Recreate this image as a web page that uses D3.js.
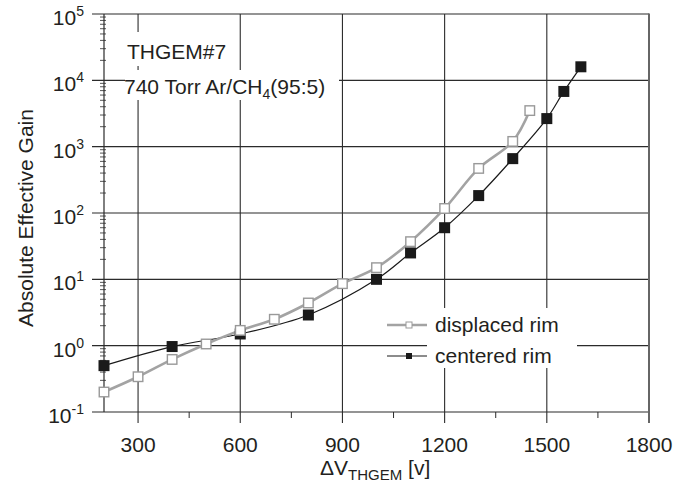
<!DOCTYPE html>
<html>
<head>
<meta charset="utf-8">
<script src="https://cdn.jsdelivr.net/npm/d3@7"></script>
<style>
  html, body { margin: 0; padding: 0; background: #fff; }
  svg { display: block; font-family: "Liberation Sans", Arial, Helvetica, sans-serif; }
</style>
</head>
<body>
<svg id="chart" width="691" height="487"></svg>
<script>
// ---- data ----
const voltDisplaced = [200, 300, 400, 500, 600, 700, 800, 900, 1000, 1100, 1200, 1300, 1400, 1450];
const gainDisplaced = [0.2, 0.34, 0.62, 1.06, 1.7, 2.5, 4.4, 8.6, 15, 37, 117, 470, 1200, 3500];
const voltCentered = [200, 400, 600, 800, 1000, 1100, 1200, 1300, 1400, 1500, 1550, 1600];
const gainCentered = [0.5, 0.97, 1.5, 2.9, 10, 25, 60, 183, 660, 2650, 6800, 16000];
const xMajorTicks = [300, 600, 900, 1200, 1500, 1800];
const xMinorTicks = [450, 750, 1050, 1350, 1650];
const yExponents = [-1, 0, 1, 2, 3, 4, 5];
const seriesNames = ["displaced rim", "centered rim"];

const svg = d3.select("#chart");
const textColor = "#231f20";
const gridColor = "#2b2b2b";
const grayLine = "#a3a3a3";
const fs = 21;

const x = d3.scaleLinear().domain([200, 1800]).range([104, 649]);
const y = d3.scaleLog().domain([0.1, 1e5]).range([412, 14]);

// grid
const grid = svg.append("g");
grid.selectAll("line.vx").data(xMajorTicks.filter(d => d < 1800)).join("line")
  .attr("x1", d => x(d)).attr("x2", d => x(d)).attr("y1", y(1e5)).attr("y2", y(0.1) + 11)
  .attr("stroke", gridColor).attr("stroke-width", 1.1);
grid.selectAll("line.hy").data(yExponents).join("line")
  .attr("x1", x(200) - 12).attr("x2", x(1800))
  .attr("y1", d => y(Math.pow(10, d))).attr("y2", d => y(Math.pow(10, d)))
  .attr("stroke", gridColor).attr("stroke-width", 1.1);
// right border
svg.append("line").attr("x1", x(1800)).attr("x2", x(1800)).attr("y1", y(1e5) - 0.5).attr("y2", y(0.1) + 11)
  .attr("stroke", "#666").attr("stroke-width", 2);
// left axis line
svg.append("line").attr("x1", x(200)).attr("x2", x(200)).attr("y1", y(1e5)).attr("y2", y(0.1))
  .attr("stroke", gridColor).attr("stroke-width", 1.2);

// x minor ticks
svg.selectAll("line.xm").data(xMinorTicks).join("line")
  .attr("x1", d => x(d)).attr("x2", d => x(d)).attr("y1", y(0.1)).attr("y2", y(0.1) + 6)
  .attr("stroke", gridColor).attr("stroke-width", 1);

// y minor ticks
const yMinor = [];
yExponents.slice(0, -1).forEach(e => { for (let m = 2; m <= 9; m++) yMinor.push(m * Math.pow(10, e)); });
svg.selectAll("line.ym").data(yMinor).join("line")
  .attr("x1", x(200) - 4).attr("x2", x(200) + 2)
  .attr("y1", d => y(d)).attr("y2", d => y(d))
  .attr("stroke", gridColor).attr("stroke-width", 0.8);

// x tick labels
svg.selectAll("text.xl").data(xMajorTicks).join("text")
  .attr("x", d => x(d)).attr("y", 452).attr("text-anchor", "middle")
  .attr("font-size", fs).attr("fill", textColor).text(d => d);

// y tick labels
const yl = svg.selectAll("text.yl").data(yExponents).join("text")
  .attr("x", 84).attr("y", d => y(Math.pow(10, d)) + 11).attr("text-anchor", "end")
  .attr("font-size", fs).attr("fill", textColor);
yl.append("tspan").text("10");
yl.append("tspan").attr("dy", -9).attr("font-size", 14).text(d => d);

// axis titles
svg.append("text").attr("transform", "translate(33,218) rotate(-90)").attr("text-anchor", "middle")
  .attr("font-size", fs).attr("fill", textColor).text("Absolute Effective Gain");
const xt = svg.append("text").attr("x", 320).attr("y", 475).attr("font-size", fs).attr("fill", textColor);
xt.append("tspan").text("ΔV");
xt.append("tspan").attr("font-size", 15).attr("dy", 5).text("THGEM");
xt.append("tspan").attr("dy", -5).text(" [v]");

// lines
const dispData = voltDisplaced.map((v, i) => [v, gainDisplaced[i]]);
const centData = voltCentered.map((v, i) => [v, gainCentered[i]]);
const line = d3.line().x(d => x(d[0])).y(d => y(d[1])).curve(d3.curveCatmullRom.alpha(0.5));

svg.append("path").attr("d", line(centData)).attr("fill", "none").attr("stroke", "#1a1a1a").attr("stroke-width", 1.2);
svg.append("path").attr("d", line(dispData)).attr("fill", "none").attr("stroke", grayLine).attr("stroke-width", 2.6);

// markers
const msC = 11, msD = 9.5;
svg.selectAll("rect.c").data(centData).join("rect")
  .attr("x", d => x(d[0]) - msC / 2).attr("y", d => y(d[1]) - msC / 2)
  .attr("width", msC).attr("height", msC).attr("fill", "#1a1a1a");
svg.selectAll("rect.d").data(dispData).join("rect")
  .attr("x", d => x(d[0]) - msD / 2).attr("y", d => y(d[1]) - msD / 2)
  .attr("width", msD).attr("height", msD).attr("fill", "#fff").attr("stroke", "#999").attr("stroke-width", 1.4);

// annotations with white background
svg.append("rect").attr("x", 124).attr("y", 32).attr("width", 102).attr("height", 34).attr("fill", "#fff");
svg.append("rect").attr("x", 125).attr("y", 70).attr("width", 214).attr("height", 30).attr("fill", "#fff");
svg.append("text").attr("x", 127).attr("y", 59).attr("font-size", fs).attr("fill", textColor).text("THGEM#7");
const t2 = svg.append("text").attr("x", 124).attr("y", 94).attr("font-size", fs).attr("fill", textColor);
t2.append("tspan").text("740 Torr Ar/CH");
t2.append("tspan").attr("font-size", 14).attr("dy", 5).text("4");
t2.append("tspan").attr("dy", -5).text("(95:5)");

// legend
svg.append("rect").attr("x", 427).attr("y", 308).attr("width", 150).attr("height", 60).attr("fill", "#fff");
const legY = [325, 356];
const lg = svg.selectAll("g.leg").data(seriesNames).join("g");
lg.append("line").attr("x1", 387).attr("x2", 427).attr("y1", (d, i) => legY[i]).attr("y2", (d, i) => legY[i])
  .attr("stroke", (d, i) => i === 0 ? grayLine : "#1a1a1a").attr("stroke-width", (d, i) => i === 0 ? 2.6 : 1.2);
lg.append("rect").attr("x", 406).attr("y", (d, i) => legY[i] - 3).attr("width", 6).attr("height", 6)
  .attr("fill", (d, i) => i === 0 ? "#fff" : "#1a1a1a").attr("stroke", (d, i) => i === 0 ? "#999" : "none").attr("stroke-width", 1);
lg.append("text").attr("x", 435).attr("y", (d, i) => legY[i] + 7).attr("font-size", fs).attr("fill", textColor).text(d => d);
</script>
</body>
</html>
